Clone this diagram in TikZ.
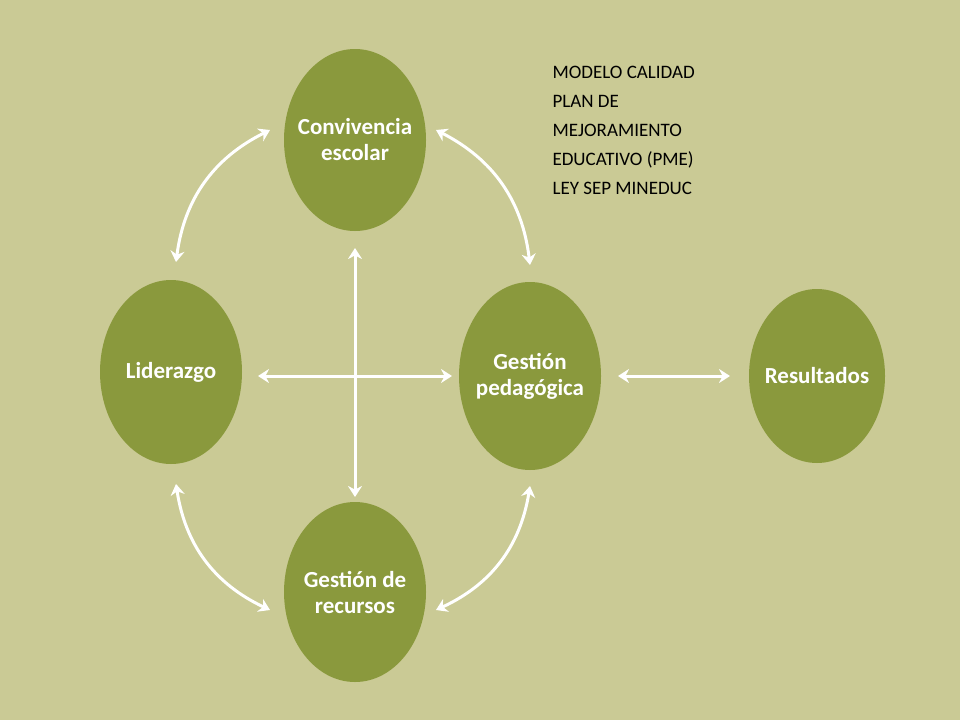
\documentclass[tikz,border=0pt]{standalone}
\usepackage{fontspec}
\setmainfont{Carlito}
\usetikzlibrary{arrows.meta}
\definecolor{fondo}{HTML}{CACA95}
\definecolor{oliva}{HTML}{8A993D}
\begin{document}
\begin{tikzpicture}[x=1pt,y=-1pt,
	area/.style={text=white,font=\bfseries\fontsize{23}{26}\selectfont,align=center,inner sep=0pt},
	flecha/.style={draw=white,line width=3pt,{Stealth[length=11pt,width=14pt]}-{Stealth[length=11pt,width=14pt]}}]
	
	% fondo
	\fill[fondo] (0,0) rectangle (960,720);
	
	% areas
	\fill[oliva] (355,140) ellipse (71 and 91);
	\fill[oliva] (171,372) ellipse (71 and 92);
	\fill[oliva] (530,376) ellipse (71 and 94);
	\fill[oliva] (817,376) ellipse (68 and 87);
	\fill[oliva] (355,592) ellipse (71 and 90);
	\node[area] (conv) at (355,140) {Convivencia\\escolar};
	\node[area] (lid) at (171,372) {Liderazgo};
	\node[area] (ped) at (530,376) {Gestión\\pedagógica};
	\node[area] (res) at (817,376) {Resultados};
	\node[area] (rec) at (355,592) {Gestión de\\recursos};
	
	% texto
	\node[anchor=north west,align=left,font=\fontsize{19}{29}\selectfont] (titulo) at (549,63)
		{MODELO CALIDAD\\PLAN DE\\MEJORAMIENTO\\EDUCATIVO (PME)\\LEY SEP MINEDUC};
	
	% cruz
	\coordinate (arriba) at (355,248);
	\coordinate (abajo) at (355,497);
	\coordinate (izq) at (258,376);
	\coordinate (der) at (452,376);
	\draw[flecha] (arriba) -- (abajo);
	\draw[flecha] (izq) -- (der);
	
	% arcos
	\draw[flecha] (270,130) to[bend right=28] (176,262);
	\draw[flecha] (436,130) to[bend left=28] (530,265);
	\draw[flecha] (176,484) to[bend right=28] (270,610);
	\draw[flecha] (530,486) to[bend left=28] (436,610);
	
	% resultados
	\coordinate (pedder) at (618,376);
	\coordinate (resizq) at (730,376);
	\draw[flecha] (pedder) -- (resizq);
	
\end{tikzpicture}
\end{document}
